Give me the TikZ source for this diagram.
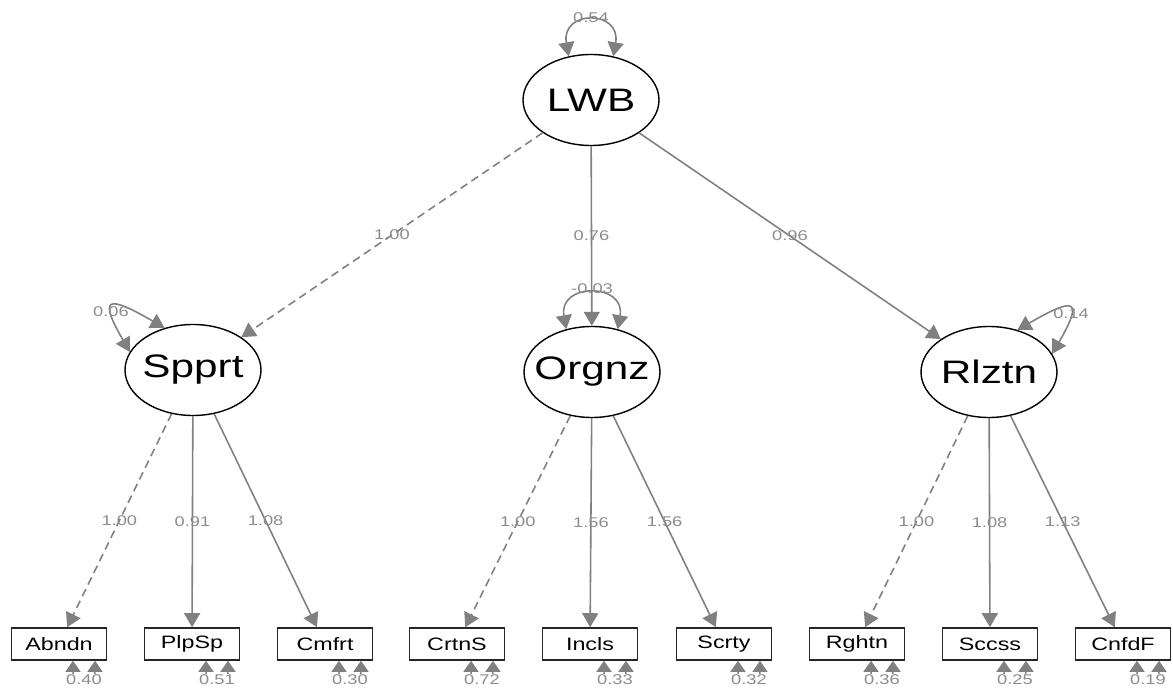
\documentclass[tikz,border=0pt]{standalone}
\usepackage{fontspec}
\newfontfamily\semfont[FakeStretch=1.3]{Liberation Sans}
\usetikzlibrary{arrows.meta,shapes.geometric}
\definecolor{edgegray}{gray}{0.5}
\definecolor{labelgray}{gray}{0.55}
\newcommand{\latname}[1]{\makebox[0pt]{#1}}

\begin{document}
\begin{tikzpicture}[>={Triangle[length=0.28cm,width=0.32cm]}]
  \tikzstyle{latent node}=[ellipse,draw,line width=0.8pt,minimum width=2.72cm,minimum height=1.82cm,inner sep=0,font=\semfont\fontsize{18.5}{21}\selectfont]
  \tikzstyle{manifest node}=[rectangle,draw=black!85,line width=0.9pt,minimum width=1.9cm,minimum height=0.64cm,inner sep=0,font=\semfont\fontsize{10.2}{12}\selectfont]
  \tikzstyle{path line}=[color=edgegray,line width=0.9pt,->]
  \tikzstyle{fixed line}=[path line,dash pattern=on 0.16cm off 0.1cm]
  \tikzstyle{var line}=[color=edgegray,line width=0.9pt,<->]
  \tikzstyle{res line}=[var line,>={Triangle[length=0.22cm,width=0.3cm]}]
  \tikzstyle{coef}=[text=labelgray,inner sep=0.5pt,font=\semfont\fontsize{8}{9}\selectfont]
  \useasboundingbox (0,0) rectangle (23.46,13.76);

  % latent variables
  \node[latent node] (LWB)   at (11.82,11.76) {\latname{LWB}};
  \node[latent node] (Sprt)  at (3.86,6.36)   {\latname{Spprt}};
  \node[latent node] (Orgnz) at (11.84,6.32)  {\latname{Orgnz}};
  \node[latent node] (Rlztn) at (19.78,6.32)  {\latname{Rlztn}};

  % indicators
  \foreach \name/\x in {Abndn/1.18,PlpSp/3.84,Cmfrt/6.50,CrtnS/9.14,Incls/11.80,Scrty/14.48,Rghtn/17.14,Sccss/19.80,CnfdF/22.46}
    \node[manifest node] (\name) at (\x,0.88) {\name};

  % second order loadings
  \draw[fixed line] (LWB) -- node[coef]{1.00} (Sprt);
  \draw[path line]  (LWB) -- node[coef]{0.76} (Orgnz);
  \draw[path line]  (LWB) -- node[coef]{0.96} (Rlztn);

  % first order loadings
  \foreach \lat/\obs/\val/\sty in {Sprt/Abndn/1.00/fixed line,Sprt/PlpSp/0.91/path line,Sprt/Cmfrt/1.08/path line,
      Orgnz/CrtnS/1.00/fixed line,Orgnz/Incls/1.56/path line,Orgnz/Scrty/1.56/path line,
      Rlztn/Rghtn/1.00/fixed line,Rlztn/Sccss/1.08/path line,Rlztn/CnfdF/1.13/path line}
    \draw[\sty] (\lat) -- node[coef]{\val} (\obs);

  % variances of the latents
  \draw[var line] (LWB.117) to[out=100,in=80,distance=0.95cm] node[coef,yshift=0.08cm]{0.54} (LWB.63);
  \draw[var line] (Orgnz.121) to[out=100,in=80,distance=0.95cm] node[coef,yshift=0.1cm]{-0.03} (Orgnz.59);
  \draw[var line] (Sprt.124) to[out=150,in=120,distance=1.3cm] node[coef,xshift=-0.06cm,yshift=-0.1cm]{0.06} (Sprt.164);
  \draw[var line] (Rlztn.56) to[out=30,in=60,distance=1.3cm] node[coef,xshift=0.06cm,yshift=-0.1cm]{0.14} (Rlztn.16);

  % residual variances
  \foreach \name/\val in {Abndn/0.40,PlpSp/0.51,Cmfrt/0.30,CrtnS/0.72,Incls/0.33,Scrty/0.32,Rghtn/0.36,Sccss/0.25,CnfdF/0.19}
    \draw[res line] ([xshift=0.28cm]\name.south) to[out=-90,in=-90,distance=0.5cm]
      node[coef,fill=white]{\val} ([xshift=0.72cm]\name.south);
\end{tikzpicture}
\end{document}
